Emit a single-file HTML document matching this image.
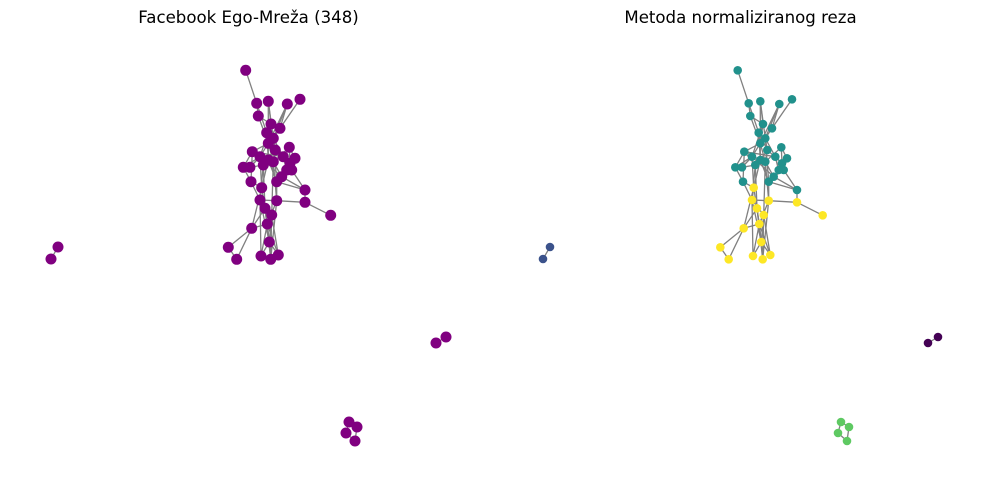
<!DOCTYPE html>
<html><head><meta charset="utf-8"><style>
body{margin:0;background:#fff;}
svg text{font-family:"DejaVu Sans","Liberation Sans",sans-serif;}
</style></head><body>
<svg id="chart" width="989" height="490" xmlns="http://www.w3.org/2000/svg">
<text x="248.5" y="23" font-size="16.6" text-anchor="middle">Facebook Ego-Mreža (348)</text>
<text x="740.5" y="23" font-size="16.6" text-anchor="middle">Metoda normaliziranog reza</text>
<g id="edgesL"></g><g id="nodesL"></g><g id="edgesR"></g><g id="nodesR"></g>
</svg>
<script>
const nodeX=[245.7,256.7,268.3,287.3,300,258.3,271,280,266.7,273.3,268.3,289.3,252.3,275.3,260,268.3,283.3,295,290,243.3,250,263.3,273.3,286.7,291.7,281.7,276.7,251,261.7,305,260,276.7,305,265,271.7,330.7,267.3,251.7,269.3,228.3,236.7,261,270.7,278.3, 58,51, 446,436, 349,357,346,355];
const nodeY=[70.3,103.3,101.3,104,99.3,116,124,128.3,132.7,138.3,143.3,147.3,151.7,150,156.7,160,156.7,158.3,163.3,167.3,167.3,165,161.7,170,170,176.7,181.7,181.7,187.7,190,200,200.7,202.3,208.3,215,215.3,224,228.3,242,247.3,259.3,256,259.3,255, 247,259, 337,343, 422,427,433,441];
const community=[1,1,1,1,1,1,1,1,1,1,1,1,1,1,1,1,1,1,1,1,1,1,1,1,1,1,1,1,2,1,2,2,2,2,2,2,2,2,2,2,2,2,2,2, 3,3, 4,4, 5,5,5,5];
const edgeA=[0,1,1,2,2,3,3,4,5,5,6,6,7,8,8,9,9,10,10,10,11,11,12,12,13,13,14,14,15,15,16,16,17,18,19,19,20,21,21,22,22,23,24,25,25,26,26,27,27,28,28,29,29,30,30,31,32,33,34,36,36,37,37,37,38,38,38,38,36,39,44,46,48,48,49,50,8,9,12,14,16,28,33,34,2,3,10,12,13,14,15,17,20,21,22,30,31,33,36,41,42,43,19,11,6];
const edgeB=[1,5,8,6,9,7,10,7,6,10,8,10,9,10,13,13,16,12,14,15,17,18,15,21,15,22,19,20,21,26,18,23,24,24,20,27,21,22,30,25,31,24,25,26,29,29,31,28,30,30,33,24,32,31,34,32,35,36,36,37,38,39,40,33,41,42,43,34,41,40,45,47,49,50,51,51,15,26,27,28,23,37,38,42,10,9,22,16,18,25,28,23,14,33,34,38,36,42,43,30,31,34,12,22,14];
const colors={1:"#21918c",2:"#fde725",3:"#3b528b",4:"#440154",5:"#5ec962"};
const NS="http://www.w3.org/2000/svg";
function draw(off,rad,colorFn,eg,ng){
  for(let i=0;i<edgeA.length;i++){
    const l=document.createElementNS(NS,"line");
    l.setAttribute("x1",nodeX[edgeA[i]]+off);l.setAttribute("y1",nodeY[edgeA[i]]);
    l.setAttribute("x2",nodeX[edgeB[i]]+off);l.setAttribute("y2",nodeY[edgeB[i]]);
    l.setAttribute("stroke","#808080");l.setAttribute("stroke-width","1.3");
    
    
    eg.appendChild(l);
  }
  for(let i=0;i<nodeX.length;i++){
    const c=document.createElementNS(NS,"circle");
    c.setAttribute("cx",nodeX[i]+off);c.setAttribute("cy",nodeY[i]);c.setAttribute("r",rad);
    c.setAttribute("fill",colorFn(i));
    
    
    ng.appendChild(c);
  }
}
draw(0,5.5,()=>"#800080",document.getElementById("edgesL"),document.getElementById("nodesL"));
draw(492,4.3,i=>colors[community[i]],document.getElementById("edgesR"),document.getElementById("nodesR"));
</script>
</body></html>
